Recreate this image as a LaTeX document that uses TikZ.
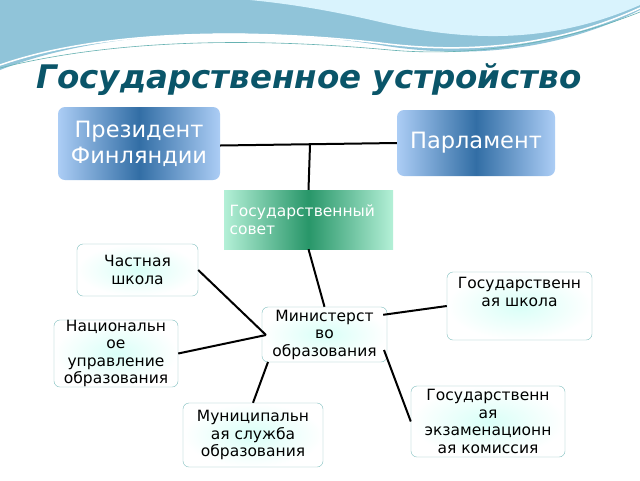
\documentclass[tikz,border=0pt]{standalone}
\usepackage{fontspec}
\setmainfont{DejaVu Sans}
\definecolor{bedge}{RGB}{172,205,245}
\definecolor{bmid}{RGB}{50,110,165}
\definecolor{gedge}{RGB}{180,240,215}
\definecolor{gmid}{RGB}{40,150,105}
\definecolor{ttl}{RGB}{10,85,105}
\begin{document}
\begin{tikzpicture}[x=1pt,y=-1pt,
  bluebox/.style={rounded corners=7pt,left color=bedge,right color=bedge,middle color=bmid,text=white,align=center,font=\fontsize{22.5}{26}\selectfont,inner sep=1pt},
  greenbox/.style={draw=none,left color=gedge,right color=gedge,middle color=gmid,text=white,align=left,font=\fontsize{15.5}{18}\selectfont,inner sep=1pt},
  wbox/.style={draw=teal!50,rounded corners=6pt,inner color=green!20!cyan!15,outer color=white,text=black,align=center,font=\fontsize{15.5}{17.5}\selectfont,inner sep=0pt},
  conn/.style={line width=2pt,black}]
\useasboundingbox (0,0) rectangle (640,480);
\fill[white] (0,0) rectangle (640,480);
% top waves
\fill[cyan!40!teal!50!white] (0,0) -- (640,0) -- (640,10) .. controls (560,50) and (470,60) .. (380,45) .. controls (250,25) and (100,30) .. (0,70) -- cycle;
\fill[cyan!15] (250,0) -- (640,0) -- (640,5) .. controls (560,40) and (480,45) .. (380,22) .. controls (320,8) and (280,3) .. (250,0) -- cycle;
\draw[white,line width=1.5pt] (0,65) .. controls (100,30) and (250,28) .. (380,43) .. controls (470,55) and (560,45) .. (640,8);
\draw[teal!60,line width=0.6pt] (0,68) .. controls (120,38) and (260,38) .. (390,50) .. controls (480,58) and (570,40) .. (640,12);
\node[font=\fontsize{32.5}{36}\selectfont\bfseries\itshape,text=ttl,anchor=west] (title) at (33,80) {Государственное устройство};
\node[bluebox,minimum width=162pt,minimum height=73pt] (pres) at (139,143.5) {Президент\\Финляндии};
\node[bluebox,minimum width=158pt,minimum height=66pt] (parl) at (476,143) {Парламент};
\node[greenbox,minimum width=169pt,minimum height=59pt,text width=158pt] (gs) at (308.5,219.5) {\\[-6pt]Государственный\\совет};
\node[wbox,minimum width=121pt,minimum height=52pt] (ch) at (137.5,270) {Частная\\школа};
\node[wbox,minimum width=145pt,minimum height=68pt,text depth=28pt] (gsch) at (519.5,306) {Государственн\\ая школа};
\node[wbox,minimum width=125pt,minimum height=55pt] (min) at (324.5,334.5) {Министерст\\во\\образования};
\node[wbox,minimum width=124pt,minimum height=57pt] (nat) at (116,353.5) {Национальн\\ое\\управление\\образования};
\node[wbox,minimum width=154pt,minimum height=71pt] (ex) at (488,421.5) {Государственн\\ая\\экзаменационн\\ая комиссия};
\node[wbox,minimum width=140pt,minimum height=64pt] (mun) at (253,435) {Муниципальн\\ая служба\\образования};
\coordinate (j) at (310,145);
\coordinate (hub) at (266,335);
\draw[conn] (pres.east) ++(0,2) -- (parl.west);
\draw[conn] (j) -- (gs.north);
\draw[conn] (gs.south) -- (min.north);
\draw[conn] (ch.east) -- (hub);
\draw[conn] (nat.east) -- (hub);
\draw[conn] (min.north east) ++(-4,8) -- (gsch.west);
\draw[conn] (268,362) -- (mun.north);
\draw[conn] (384,350) -- (ex.west);
\end{tikzpicture}
\end{document}
